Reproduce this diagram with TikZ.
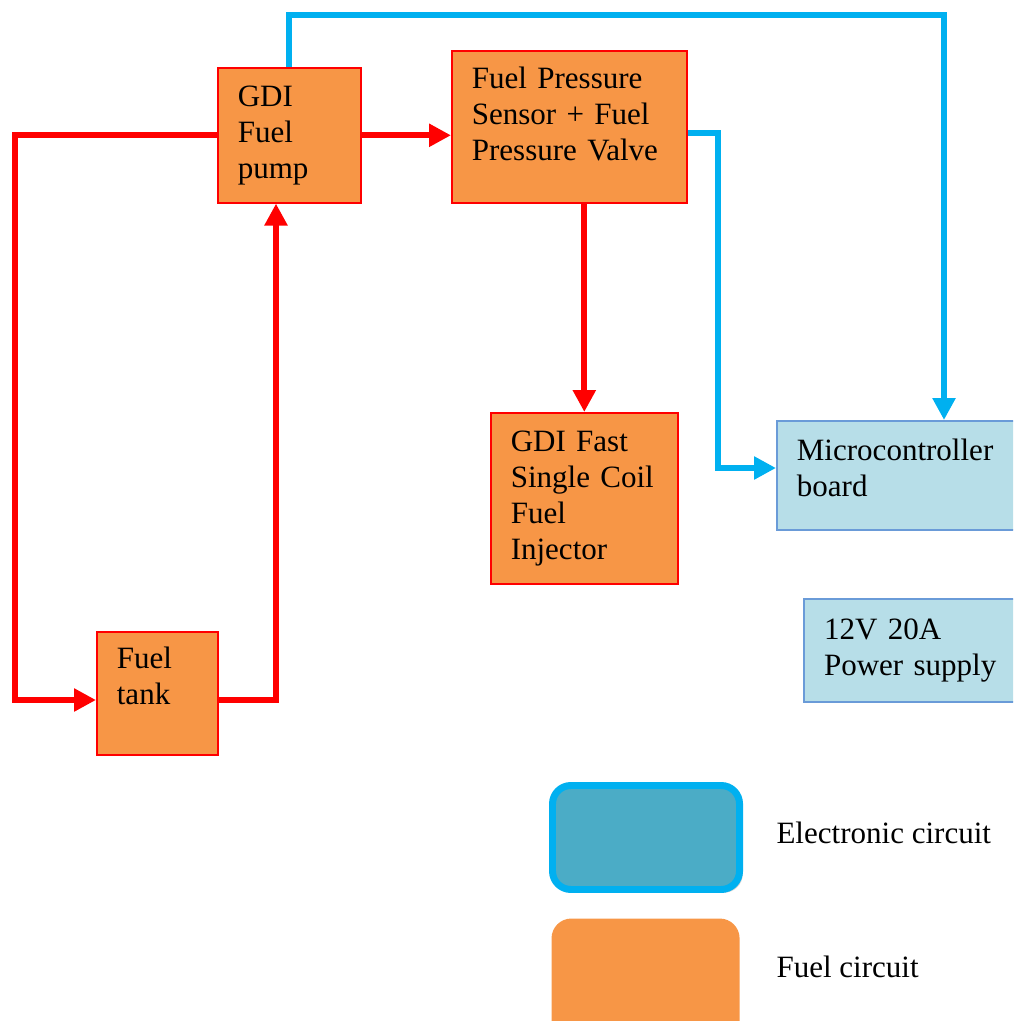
\documentclass[tikz,border=0pt]{standalone}
\usepackage{fontspec}
\setmainfont{Liberation Serif}
\usepackage{tikz}
\usetikzlibrary{positioning, arrows.meta, shadows}
\definecolor{fuelorange}{HTML}{F79646}
\definecolor{fuelred}{HTML}{FF0000}
\definecolor{elecfill}{HTML}{B7DEE8}
\definecolor{elecedge}{HTML}{6A9BD8}
\definecolor{wirecyan}{HTML}{00B0F0}
\definecolor{keyfill}{HTML}{4BACC6}

\begin{document}
\begin{tikzpicture}[
    x=0.0136cm, y=-0.0136cm,
    every node/.style={font=\fontsize{12}{13.9}\selectfont, align=left, inner sep=0pt, anchor=north west},
    fuelbox/.style={draw=fuelred, fill=fuelorange, line width=0.6pt},
    elecbox/.style={draw=elecedge, fill=elecfill, line width=0.8pt},
    fuelline/.style={draw=fuelred, line width=2.3pt, -{Triangle[length=8.5pt, width=8.5pt]}},
    elecline/.style={draw=wirecyan, line width=2.3pt, -{Triangle[length=8.5pt, width=8.5pt]}},
    keytext/.style={anchor=west}
]
\useasboundingbox (0,0) rectangle (1013,1021);
\clip (0,0) rectangle (1013,1021);

% Fuel circuit
\node[fuelbox, minimum width=1.945cm, minimum height=1.836cm, text width=1.40cm] (pump) at (217,67) {GDI\\Fuel\\pump};
\node[fuelbox, minimum width=3.196cm, minimum height=2.067cm, text width=2.65cm] (press) at (451,50) {Fuel Pressure\\Sensor + Fuel\\Pressure Valve\\[-3.8pt]\mbox{}};
\node[fuelbox, minimum width=2.543cm, minimum height=2.326cm, text width=2.00cm] (inj) at (490,412) {GDI Fast\\Single Coil\\Fuel\\Injector};
\node[fuelbox, minimum width=1.646cm, minimum height=1.673cm, text width=1.10cm] (tank) at (96,631) {Fuel\\tank\\\mbox{}};

% Electronic circuit
\node[elecbox, minimum width=3.590cm, minimum height=1.482cm, text width=3.05cm] (micro) at (776,420) {Microcontroller\\board\\[-7.7pt]\mbox{}};
\node[elecbox, minimum width=3.223cm, minimum height=1.401cm, text width=2.68cm] (power) at (803,598) {12V 20A\\Power supply};

% Legend
\node[draw=wirecyan, fill=keyfill, line width=2.7pt, rounded corners=0.25cm,
      minimum width=2.543cm, minimum height=1.414cm,
      drop shadow={shadow xshift=1.2pt, shadow yshift=-1.2pt, fill=gray!70}] (keyelec) at (549,782) {};
\node[fill=fuelorange, rounded corners=0.27cm, minimum width=2.557cm, minimum height=1.659cm] (keyfuel) at (551,918) {};
\node[keytext] (keyelectext) at (776,833) {Electronic circuit};
\node[keytext] (keyfueltext) at (776,967) {Fuel circuit};

% Turning points
\coordinate (retcorner) at (15,700);
\coordinate (feedup) at (276,700);
\coordinate (toprail) at (944,15);
\coordinate (sensjog) at (718,133);
\coordinate (sensdown) at (718,468);

% Fuel lines
\draw[fuelline] (pump.west) -| (retcorner) -- (retcorner -| tank.west);
\draw[fuelline] (feedup -| tank.east) -- (feedup) -- (feedup |- pump.south);
\draw[fuelline] (pump.east) -- (pump.east -| press.west);
\draw[fuelline] (inj.north |- press.south) -- (inj.north);

% Signal lines
\draw[elecline] (pump.north) |- (toprail) -- (toprail |- micro.north);
\draw[elecline] (sensjog -| press.east) -- (sensjog) -- (sensdown) -- (sensdown -| micro.west);

\end{tikzpicture}
\end{document}
